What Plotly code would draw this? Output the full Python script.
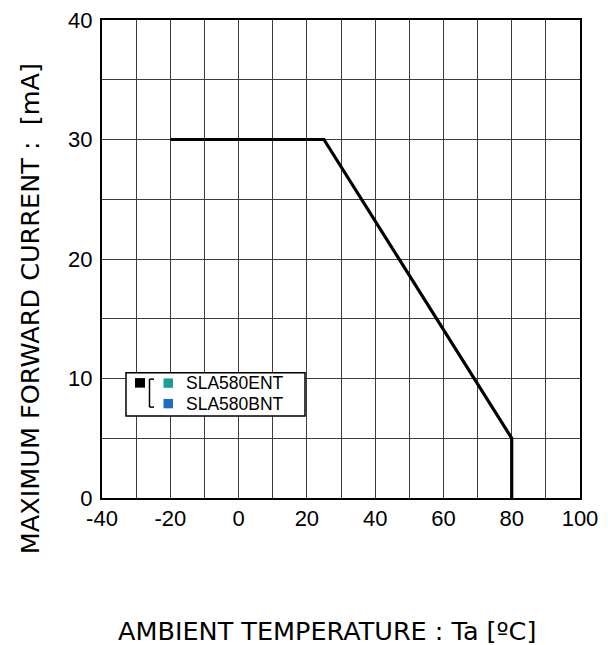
import plotly.graph_objects as go

# Data
temp = [-20, 25, 80, 80]
current = [30, 30, 5, 0]
x_ticks = [-40, -20, 0, 20, 40, 60, 80, 100]
y_ticks = [0, 10, 20, 30, 40]
legend_names = ["SLA580ENT", "SLA580BNT"]
legend_colors = ["#1a9e96", "#1c6fc0"]

W, H = 608, 645
PL, PR, PT, PB = 102, 580, 19.5, 498  # plot area in page pixels
L = PL
R = W - PR
T = PT
B = H - PB

def px(x):
    return (x - PL) / (PR - PL)

def py(y):
    return (PB - y) / (PB - PT)

fig = go.Figure()
fig.add_trace(go.Scatter(x=temp, y=current, mode="lines",
                         line=dict(color="black", width=3.2), showlegend=False,
                         hoverinfo="skip", cliponaxis=False))

shapes = []
shapes.append(dict(type="rect", xref="paper", yref="paper",
                   x0=px(126), x1=px(305), y0=py(416), y1=py(372.5),
                   line=dict(color="black", width=1.5), fillcolor="white", layer="above"))
shapes.append(dict(type="rect", xref="paper", yref="paper",
                   x0=px(135), x1=px(145), y0=py(387.5), y1=py(378),
                   line=dict(width=0), fillcolor="black", layer="above"))
for (xa, ya), (xb, yb) in [((149.5, 379), (149.5, 407)), ((149.5, 379), (154, 379)),
                           ((149.5, 407), (154, 407))]:
    shapes.append(dict(type="line", xref="paper", yref="paper",
                       x0=px(xa), x1=px(xb), y0=py(ya), y1=py(yb),
                       line=dict(color="black", width=1.5), layer="above"))
ann = []
row_y = [383, 403.5]
for name, col, yc in zip(legend_names, legend_colors, row_y):
    shapes.append(dict(type="rect", xref="paper", yref="paper",
                       x0=px(163.5), x1=px(173), y0=py(yc + 4.7), y1=py(yc - 4.7),
                       line=dict(width=0), fillcolor=col, layer="above"))
    ann.append(dict(text=name, xref="paper", yref="paper", x=px(184), y=py(yc),
                    xanchor="left", yanchor="middle", showarrow=False,
                    font=dict(family="Liberation Sans, Arial", size=17.5, color="black")))

ann.append(dict(text="AMBIENT TEMPERATURE : Ta [ºC]", xref="paper", yref="paper",
                x=px(326.5), y=py(631), xanchor="center", yanchor="middle", showarrow=False,
                font=dict(family="DejaVu Sans, Verdana", size=25.5, color="black")))
ann.append(dict(text="MAXIMUM FORWARD CURRENT :  [mA]", xref="paper", yref="paper",
                x=px(30), y=py(309), xanchor="center", yanchor="middle", showarrow=False,
                textangle=-90,
                font=dict(family="DejaVu Sans, Verdana", size=25.5, color="black")))

grid = "#3c3c3c"
fig.update_layout(
    width=W, height=H,
    margin=dict(l=L, r=R, t=T, b=B, autoexpand=False),
    paper_bgcolor="white", plot_bgcolor="white",
    shapes=shapes, annotations=ann,
    xaxis=dict(range=[-40, 100], tickvals=x_ticks, ticktext=[str(v) for v in x_ticks],
               showgrid=True, gridcolor=grid, gridwidth=1,
               minor=dict(dtick=10, showgrid=True, gridcolor=grid, gridwidth=1),
               showline=True, linecolor="black", linewidth=2, mirror=True,
               ticks="", zeroline=False, automargin=False,
               tickfont=dict(family="Liberation Sans, Arial", size=22, color="black")),
    yaxis=dict(range=[0, 40], tickvals=y_ticks, ticktext=[str(v) for v in y_ticks],
               showgrid=True, gridcolor=grid, gridwidth=1,
               minor=dict(dtick=5, showgrid=True, gridcolor=grid, gridwidth=1),
               showline=True, linecolor="black", linewidth=2, mirror=True,
               ticks="", zeroline=False, ticklabelstandoff=3, automargin=False,
               tickfont=dict(family="Liberation Sans, Arial", size=22, color="black")),
)

fig.write_html("out.html", config={"displayModeBar": False},
               post_script="document.body.style.margin='0px';")
